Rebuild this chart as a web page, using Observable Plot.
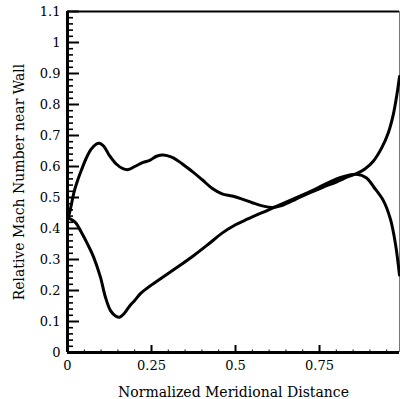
<!DOCTYPE html>
<html>
<head>
<meta charset="utf-8">
<script src="https://cdn.jsdelivr.net/npm/d3@7"></script>
<script src="https://cdn.jsdelivr.net/npm/@observablehq/plot@0.6"></script>
<style>
  html, body { margin: 0; padding: 0; background: #fff; }
  #chart svg { display: block; }
</style>
</head>
<body>
<div id="chart"></div>
<script>
// Relative Mach number near the wall along the normalized meridional distance
const xTicks = [0, 0.25, 0.5, 0.75];
const xTickLabels = ["0", "0.25", "0.5", "0.75"];
const yTicks = [0, 0.1, 0.2, 0.3, 0.4, 0.5, 0.6, 0.7, 0.8, 0.9, 1, 1.1];
const yTickLabels = ["0", "0.1", "0.2", "0.3", "0.4", "0.5", "0.6", "0.7", "0.8", "0.9", "1", "1.1"];
const xTitle = "Normalized Meridional Distance";
const yTitle = "Relative Mach Number near Wall";

// upper branch: two peaks near the inlet, rising steeply at the outlet
const upperX = [0, 0.006, 0.012, 0.02, 0.03, 0.042, 0.055, 0.07, 0.085, 0.095, 0.108, 0.125, 0.145, 0.165, 0.18, 0.2, 0.225, 0.245, 0.265, 0.285, 0.31, 0.34, 0.37, 0.4, 0.43, 0.46, 0.49, 0.52, 0.55, 0.58, 0.61, 0.64, 0.68, 0.72, 0.76, 0.8, 0.835, 0.86, 0.885, 0.91, 0.935, 0.955, 0.97, 0.98, 0.988];
const upperY = [0.43, 0.45, 0.48, 0.52, 0.555, 0.59, 0.625, 0.655, 0.672, 0.675, 0.665, 0.635, 0.608, 0.593, 0.59, 0.6, 0.613, 0.62, 0.633, 0.637, 0.63, 0.61, 0.585, 0.558, 0.53, 0.512, 0.505, 0.495, 0.483, 0.473, 0.468, 0.475, 0.495, 0.515, 0.533, 0.55, 0.567, 0.577, 0.592, 0.617, 0.66, 0.71, 0.77, 0.83, 0.89];

// lower branch: deep dip near the inlet, falling off at the outlet
const lowerX = [0, 0.01, 0.025, 0.04, 0.059, 0.078, 0.098, 0.113, 0.128, 0.143, 0.155, 0.168, 0.185, 0.2, 0.217, 0.24, 0.277, 0.32, 0.376, 0.42, 0.46, 0.5, 0.535, 0.594, 0.63, 0.693, 0.733, 0.78, 0.82, 0.86, 0.89, 0.912, 0.94, 0.961, 0.976, 0.988];
const lowerY = [0.435, 0.43, 0.418, 0.39, 0.351, 0.307, 0.243, 0.178, 0.135, 0.118, 0.114, 0.125, 0.15, 0.168, 0.19, 0.21, 0.238, 0.27, 0.313, 0.35, 0.385, 0.412, 0.43, 0.458, 0.475, 0.505, 0.525, 0.55, 0.567, 0.575, 0.563, 0.533, 0.49, 0.43, 0.35, 0.25];

const upper = upperX.map((x, i) => ({x, y: upperY[i]}));
const lower = lowerX.map((x, i) => ({x, y: lowerY[i]}));

const width = 400, height = 399;
const margin = {top: 11, right: 1, bottom: 47, left: 67};
const xMax = 0.988, yMax = 1.1;
const pxX = xMax / (width - margin.left - margin.right);   // data units per pixel (x)
const pxY = yMax / (height - margin.top - margin.bottom);  // data units per pixel (y)

const yMajor = d3.range(0, 1.1001, 0.1).map(v => +v.toFixed(2));
const yMinor = d3.range(0, 1.1001, 0.02).map(v => +v.toFixed(2)).filter(v => !yMajor.some(m => Math.abs(m - v) < 1e-6));
const xMajor = [0.25, 0.5, 0.75];
const xMinor = d3.range(0.05, 0.98, 0.05).map(v => +v.toFixed(2)).filter(v => !xMajor.some(m => Math.abs(m - v) < 1e-6));

const chart = Plot.plot({
  width, height,
  marginTop: margin.top, marginRight: margin.right, marginBottom: margin.bottom, marginLeft: margin.left,
  style: {fontFamily: "DejaVu Serif", fontSize: "13px", color: "#000", background: "#fff"},
  x: {domain: [0, xMax], axis: null},
  y: {domain: [0, yMax], axis: null},
  marks: [
    // inward tick marks
    Plot.ruleY(yMajor, {x1: 0, x2: 12 * pxX, stroke: "#000", strokeWidth: 2}),
    Plot.ruleY(yMinor, {x1: 0, x2: 6 * pxX, stroke: "#000", strokeWidth: 1.6}),
    Plot.ruleX(xMajor, {y1: 0, y2: 7 * pxY, stroke: "#000", strokeWidth: 2}),
    Plot.ruleX(xMinor, {y1: 0, y2: 2.5 * pxY, stroke: "#000", strokeWidth: 1}),
    // frame
    Plot.ruleY([yMax], {stroke: "#000", strokeWidth: 2}),
    Plot.ruleX([xMax], {stroke: "#777", strokeWidth: 1}),
    Plot.ruleY([0], {stroke: "#000", strokeWidth: 3}),
    Plot.ruleX([0], {stroke: "#000", strokeWidth: 3}),
    // tick labels
    Plot.axisY({ticks: yTicks, tickSize: 0, tickPadding: 7, tickFormat: d => yTickLabels[yTicks.indexOf(d)], label: null, fontSize: 13}),
    Plot.axisX({ticks: xTicks, tickSize: 0, tickPadding: 8, tickFormat: d => xTickLabels[xTicks.indexOf(d)], label: null, fontSize: 13}),
    // axis titles
    Plot.text([xTitle], {frameAnchor: "bottom", dy: 44, lineAnchor: "bottom", fontSize: 14}),
    Plot.axisY({ticks: [], tickSize: 0, label: yTitle, labelAnchor: "center", labelArrow: "none", labelOffset: 53, fontSize: 14}),
    // curves
    Plot.line(upper, {x: "x", y: "y", curve: "catmull-rom", stroke: "#000", strokeWidth: 3}),
    Plot.line(lower, {x: "x", y: "y", curve: "catmull-rom", stroke: "#000", strokeWidth: 3})
  ]
});
document.getElementById("chart").append(chart);
</script>
</body>
</html>
